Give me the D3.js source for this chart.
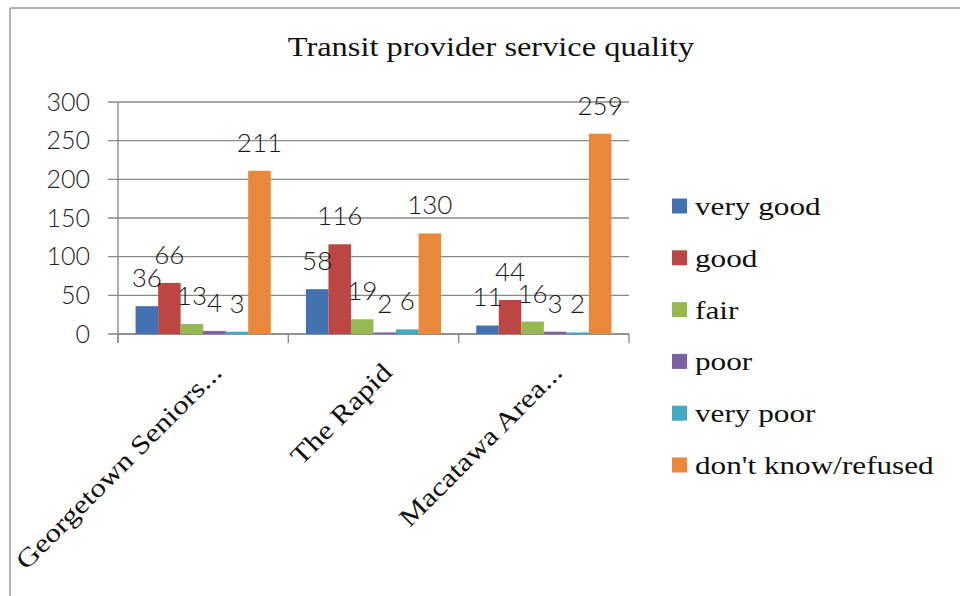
<!DOCTYPE html>
<html>
<head>
<meta charset="utf-8">
<script src="https://cdn.jsdelivr.net/npm/d3@7"></script>
<style>
  html, body { margin: 0; padding: 0; background: #fff; }
  svg { display: block; }
</style>
</head>
<body>
<svg id="chart" width="960" height="596"></svg>
<script>
const title = "Transit  provider service quality";
const categories = ["Georgetown Seniors...", "The Rapid", "Macatawa Area..."];
const seriesNames = ["very good", "good", "fair", "poor", "very poor", "don't know/refused"];
const seriesColors = ["#4472B0", "#BB4643", "#95B853", "#7C60A0", "#45A9C4", "#E9873A"];
const veryGood = [36, 58, 11];
const good = [66, 116, 44];
const fair = [13, 19, 16];
const poor = [4, 2, 3];
const veryPoor = [3, 6, 2];
const dontKnow = [211, 130, 259];
const yTicks = [0, 50, 100, 150, 200, 250, 300];

const seriesValues = [veryGood, good, fair, poor, veryPoor, dontKnow];

const svg = d3.select("#chart");
const serif = "'Liberation Serif', 'Times New Roman', serif";
const sans = "Lato, 'Open Sans', 'DejaVu Sans', sans-serif";
const stretch = 1.2;
const gridColor = "#8a8a8a";

// frame
svg.append("line").attr("x1", 10).attr("x2", 10).attr("y1", 8).attr("y2", 596)
  .attr("stroke", "#9a9a9a").attr("stroke-width", 1.5);
svg.append("line").attr("x1", 10).attr("x2", 960).attr("y1", 8).attr("y2", 8)
  .attr("stroke", "#9a9a9a").attr("stroke-width", 1.5);

const plot = { left: 118, right: 629, top: 102, bottom: 334 };

const x = d3.scaleBand().domain(categories).range([plot.left, plot.right]).paddingInner(0).paddingOuter(0);
const xs = d3.scaleBand().domain(seriesNames).range([0, x.bandwidth()]).paddingInner(0).paddingOuter(0.78);
const y = d3.scaleLinear().domain([0, 300]).range([plot.bottom, plot.top]);

function stretchText(sel) {
  sel.each(function() {
    const w = this.getComputedTextLength();
    d3.select(this).attr("textLength", w * stretch).attr("lengthAdjust", "spacingAndGlyphs");
  });
}

// title
svg.append("text").attr("x", 491).attr("y", 56).attr("text-anchor", "middle")
  .attr("font-family", serif).attr("font-size", 27).attr("fill", "#111")
  .text(title).call(stretchText);

// gridlines
svg.append("g").selectAll("line").data(yTicks).join("line")
  .attr("x1", plot.left - 10).attr("x2", plot.right)
  .attr("y1", d => y(d)).attr("y2", d => y(d))
  .attr("stroke", gridColor).attr("stroke-width", 1.4);

// y axis labels
const yAxis = d3.axisLeft(y).tickValues(yTicks).tickSize(0).tickPadding(28);
const yg = svg.append("g").attr("transform", `translate(${plot.left},0)`).call(yAxis);
yg.select(".domain").remove();
yg.selectAll("text").attr("font-family", sans).attr("font-weight", 300)
  .attr("font-size", 25).attr("fill", "#222");

// axis lines
svg.append("line").attr("x1", plot.left).attr("x2", plot.left)
  .attr("y1", plot.top).attr("y2", plot.bottom + 9)
  .attr("stroke", gridColor).attr("stroke-width", 1.4);
svg.append("line").attr("x1", plot.left).attr("x2", plot.right)
  .attr("y1", plot.bottom).attr("y2", plot.bottom)
  .attr("stroke", gridColor).attr("stroke-width", 1.4);
const boundaries = categories.map(c => x(c)).concat([x(categories[categories.length - 1]) + x.bandwidth()]);
svg.append("g").selectAll("line").data(boundaries).join("line")
  .attr("x1", d => d).attr("x2", d => d)
  .attr("y1", plot.bottom).attr("y2", plot.bottom + 9)
  .attr("stroke", gridColor).attr("stroke-width", 1.4);

// bars
const barData = [];
seriesNames.forEach((s, si) => {
  categories.forEach((c, ci) => {
    barData.push({ s, si, c, v: seriesValues[si][ci] });
  });
});

svg.append("g").selectAll("rect").data(barData).join("rect")
  .attr("x", d => x(d.c) + xs(d.s))
  .attr("width", xs.bandwidth())
  .attr("y", d => y(d.v))
  .attr("height", d => y(0) - y(d.v))
  .attr("fill", d => seriesColors[d.si]);

// data labels
svg.append("g").selectAll("text").data(barData).join("text")
  .attr("x", d => x(d.c) + xs(d.s) + xs.bandwidth() / 2)
  .attr("y", d => y(d.v) - 19)
  .attr("text-anchor", "middle")
  .attr("font-family", sans).attr("font-weight", 300)
  .attr("font-size", 26).attr("fill", "#1a1a1a")
  .text(d => d.v);

// category labels
svg.append("g").selectAll("text").data(categories).join("text")
  .attr("transform", d => `translate(${x(d) + x.bandwidth() / 2 + 20},${plot.bottom + 40}) rotate(-45)`)
  .attr("text-anchor", "end")
  .attr("font-family", serif).attr("font-size", 26).attr("fill", "#111")
  .text(d => d)
  .call(stretchText);

// legend
const legend = svg.append("g").selectAll("g").data(seriesNames).join("g")
  .attr("transform", (d, i) => `translate(672,${206 + i * 51.8})`);
legend.append("rect").attr("x", 0).attr("y", -7.5).attr("width", 15).attr("height", 15)
  .attr("fill", (d, i) => seriesColors[i]);
legend.append("text").attr("x", 23).attr("y", 9)
  .attr("font-family", serif).attr("font-size", 26).attr("fill", "#111")
  .text(d => d)
  .call(stretchText);
</script>
</body>
</html>
